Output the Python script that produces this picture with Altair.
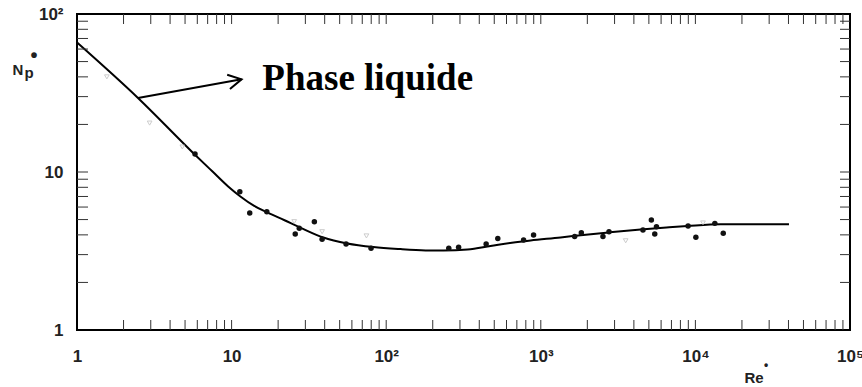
import altair as alt
import pandas as pd

# Fitted curve (Re*, Np*)
curve_re = [1.0, 2.48, 5.64, 7.5, 9.5, 11.4, 14, 17, 22, 27.8, 39.2, 56, 82.6, 124, 180, 235, 336, 473, 650, 859, 1343, 1811, 2800, 4425, 6500, 8890, 14600, 40300]
curve_np = [66, 29.4, 13.2, 10.1, 8.1, 7.0, 6.1, 5.55, 4.95, 4.45, 3.85, 3.53, 3.35, 3.25, 3.19, 3.18, 3.23, 3.40, 3.57, 3.69, 3.85, 3.98, 4.15, 4.32, 4.45, 4.55, 4.67, 4.67]

# Measured points (dark)
pts_re = [5.8, 11.3, 13.1, 16.9, 27.4, 25.8, 34.3, 38.5, 55, 79.8, 254, 294, 443, 527, 774, 898, 1656, 1829, 2524, 2761, 4580, 5190, 5460, 5600, 8970, 10070, 13360, 15140]
pts_np = [13.0, 7.5, 5.5, 5.6, 4.4, 4.05, 4.85, 3.75, 3.5, 3.29, 3.29, 3.34, 3.5, 3.8, 3.71, 3.99, 3.9, 4.13, 3.9, 4.19, 4.3, 4.97, 4.05, 4.51, 4.55, 3.86, 4.73, 4.09]

# Faint points
faint_re = [1.56, 2.95, 4.8, 25.4, 38.5, 74.5, 3540, 11200]
faint_np = [40, 20.4, 14.4, 4.85, 4.19, 3.94, 3.67, 4.76]

# Annotation
label_text = ["Phase liquide"]
label_re = [15.8]
label_np = [33]
arrow_from = (2.48, 29.4)
arrow_to = (11.6, 38.6)

x_major = [1, 10, 100, 1000, 10000, 100000]
x_labels = ["1", "10", "10²", "10³", "10⁴", "10⁵"]
y_major = [1, 10, 100]
y_labels = ["1", "10", "10²"]

x_minor = [m * 10 ** d for d in range(5) for m in range(2, 10)] + [10 ** d for d in range(1, 5)]
y_minor = [m * 10 ** d for d in range(2) for m in range(2, 10)] + [10]

W, H = 773, 316
xs = alt.Scale(type="log", domain=[1, 100000], nice=False)
ys = alt.Scale(type="log", domain=[1, 100], nice=False)

def lab_expr(vals, labs):
    parts = " : ".join(f"datum.value == {v} ? '{l}'" for v, l in zip(vals, labs))
    return parts + " : ''"

xaxis = alt.Axis(values=x_major, labelExpr=lab_expr(x_major, x_labels), tickSize=0, domain=False,
                 grid=False, title=None, labelFont="Liberation Sans", labelFontSize=17,
                 labelFontWeight="bold", labelPadding=18, labelColor="#222", labelFlush=False,
                 labelOverlap=False)
yaxis = alt.Axis(values=y_major, labelExpr=lab_expr(y_major, y_labels), tickSize=0, domain=False,
                 grid=False, title=None, labelFont="Liberation Sans", labelFontSize=17,
                 labelFontWeight="bold", labelPadding=14, labelColor="#222", labelFlush=False,
                 labelOverlap=False)

curve_df = pd.DataFrame({"re": curve_re, "np": curve_np})
pts_df = pd.DataFrame({"re": pts_re, "np": pts_np})
faint_df = pd.DataFrame({"re": faint_re, "np": faint_np})
lab_df = pd.DataFrame({"re": label_re, "np": label_np, "t": label_text})
arrow_df = pd.DataFrame({"re": [arrow_from[0]], "np": [arrow_from[1]],
                         "re2": [arrow_to[0]], "np2": [arrow_to[1]]})
head_df = pd.DataFrame({"re": [arrow_to[0]], "np": [arrow_to[1]]})
xt_df = pd.DataFrame({"v": x_minor})
yt_df = pd.DataFrame({"v": y_minor})

base_axes = alt.Chart(curve_df).mark_line(color="black", strokeWidth=2, interpolate="monotone").encode(
    x=alt.X("re:Q", scale=xs, axis=xaxis),
    y=alt.Y("np:Q", scale=ys, axis=yaxis),
)

faint = alt.Chart(faint_df).mark_point(shape="triangle-down", color="#b8b8b8", size=22, filled=False, strokeWidth=1).encode(
    x=alt.X("re:Q", scale=xs), y=alt.Y("np:Q", scale=ys))

pts = alt.Chart(pts_df).mark_circle(color="#111", size=30, opacity=1).encode(
    x=alt.X("re:Q", scale=xs), y=alt.Y("np:Q", scale=ys))

arrow = alt.Chart(arrow_df).mark_rule(color="black", strokeWidth=2).encode(
    x=alt.X("re:Q", scale=xs), y=alt.Y("np:Q", scale=ys), x2="re2:Q", y2="np2:Q")

head = alt.Chart(head_df).mark_point(shape="M -1 -0.55 L 0 0 L -1 0.55", filled=False, color="black",
                                     strokeWidth=2, size=700, angle=349, opacity=1).encode(
    x=alt.X("re:Q", scale=xs), y=alt.Y("np:Q", scale=ys))

label = alt.Chart(lab_df).mark_text(font="Liberation Serif", fontWeight="bold", fontSize=37,
                                    align="left", baseline="alphabetic", color="black").encode(
    x=alt.X("re:Q", scale=xs), y=alt.Y("np:Q", scale=ys), text="t:N")

tick_style = dict(color="#333", strokeWidth=1)
xt_bot = alt.Chart(xt_df).mark_rule(**tick_style).encode(x=alt.X("v:Q", scale=xs), y=alt.value(H), y2=alt.value(H - 10))
xt_top = alt.Chart(xt_df).mark_rule(**tick_style).encode(x=alt.X("v:Q", scale=xs), y=alt.value(0), y2=alt.value(10))
yt_left = alt.Chart(yt_df).mark_rule(**tick_style).encode(y=alt.Y("v:Q", scale=ys), x=alt.value(0), x2=alt.value(11))
yt_right = alt.Chart(yt_df).mark_rule(**tick_style).encode(y=alt.Y("v:Q", scale=ys), x=alt.value(W), x2=alt.value(W - 10))

title_df = pd.DataFrame({"t": ["N"]})
ytitle_n = alt.Chart(title_df).mark_text(text="N", font="Liberation Sans", fontWeight="bold", fontSize=15,
                                         align="center", baseline="alphabetic", color="#222").encode(
    x=alt.value(-59), y=alt.value(61))
ytitle_p = alt.Chart(title_df).mark_text(text="p", font="Liberation Sans", fontWeight="bold", fontSize=15,
                                         align="center", baseline="alphabetic", color="#222").encode(
    x=alt.value(-48), y=alt.value(64))
ytitle_s = alt.Chart(title_df).mark_text(text="•", font="Liberation Sans", fontWeight="bold", fontSize=20,
                                         align="center", baseline="middle", color="#222").encode(
    x=alt.value(-43), y=alt.value(42))
xtitle = alt.Chart(title_df).mark_text(text="Re", font="Liberation Sans", fontWeight="bold", fontSize=15,
                                       align="center", baseline="alphabetic", color="#222").encode(
    x=alt.value(677), y=alt.value(369))
xtitle_s = alt.Chart(title_df).mark_text(text="•", font="Liberation Sans", fontWeight="bold", fontSize=12,
                                         align="center", baseline="middle", color="#222").encode(
    x=alt.value(689), y=alt.value(351))

chart = alt.layer(
    base_axes, xt_bot, xt_top, yt_left, yt_right, faint, pts, arrow, head, label,
    ytitle_n, ytitle_p, ytitle_s, xtitle, xtitle_s
).properties(
    width=W, height=H,
    autosize=alt.AutoSizeParams(type="none"),
    padding={"left": 77, "top": 14, "right": 12, "bottom": 57},
    background="white",
).configure_view(stroke="black", strokeWidth=2)

chart.save("out.html", embed_options={"renderer": "svg", "actions": False})
